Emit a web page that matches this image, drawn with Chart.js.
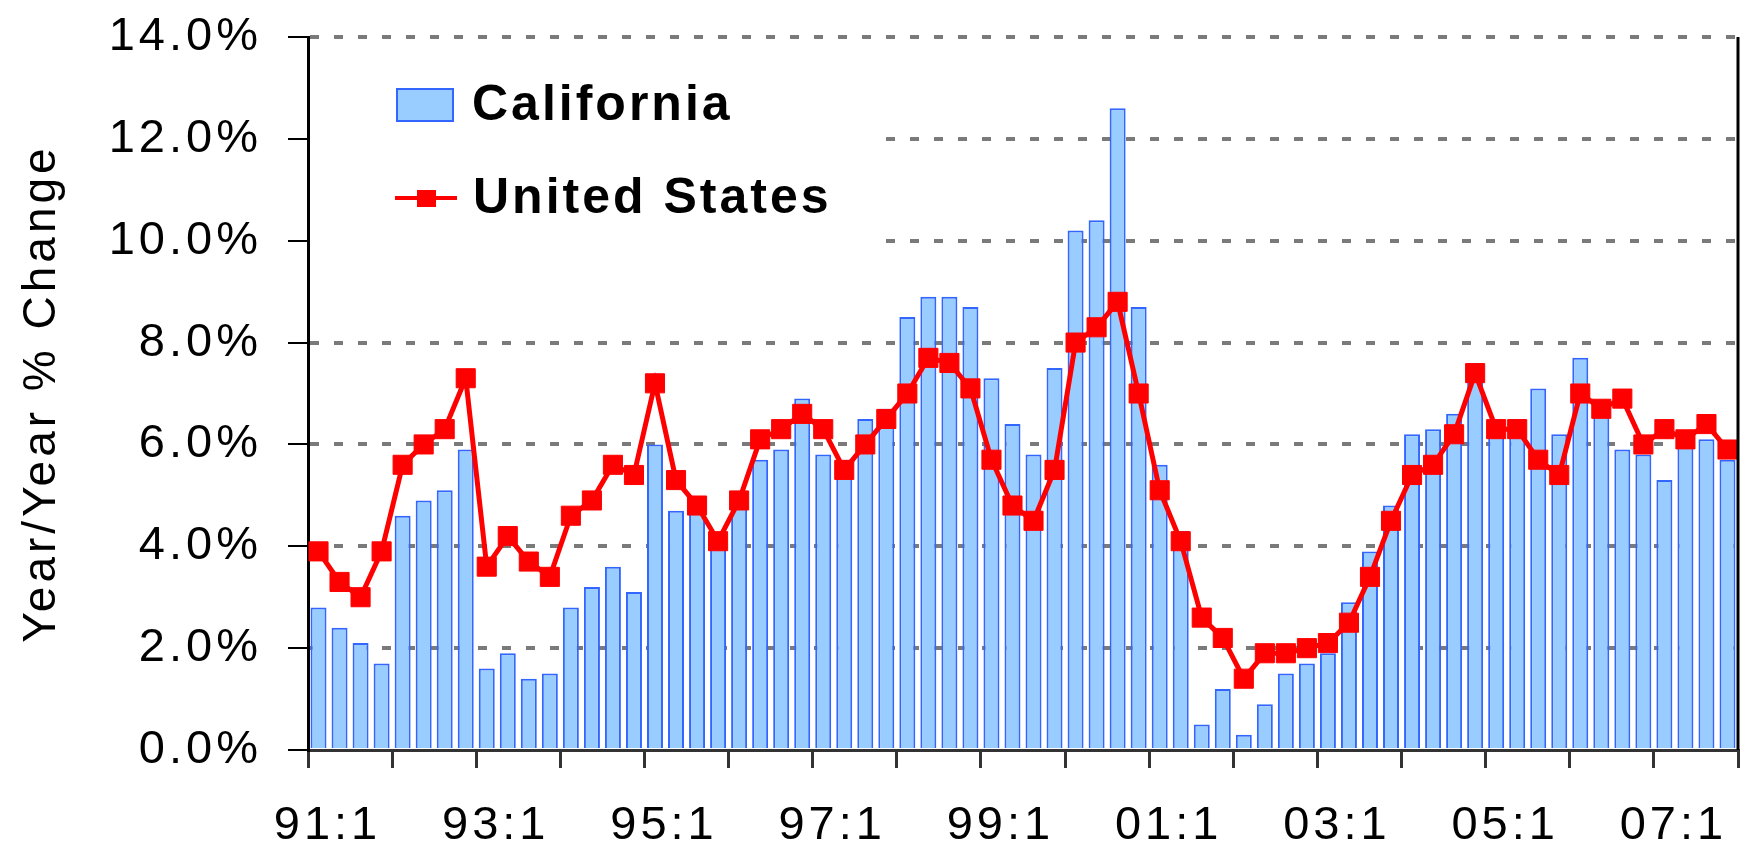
<!DOCTYPE html>
<html>
<head>
<meta charset="utf-8">
<title>California vs United States</title>
<script src="https://cdn.jsdelivr.net/npm/chart.js@4.4.1/dist/chart.umd.min.js"></script>
<style>
    body { margin: 0; background: #fff; }
    #wrap { width: 1749px; height: 858px; position: relative; }
</style>
</head>
<body>
<div id="wrap"><canvas id="growthChart"></canvas></div>
<script>
const quarters = [
    '91:1','91:2','91:3','91:4','92:1','92:2','92:3','92:4',
    '93:1','93:2','93:3','93:4','94:1','94:2','94:3','94:4',
    '95:1','95:2','95:3','95:4','96:1','96:2','96:3','96:4',
    '97:1','97:2','97:3','97:4','98:1','98:2','98:3','98:4',
    '99:1','99:2','99:3','99:4','00:1','00:2','00:3','00:4',
    '01:1','01:2','01:3','01:4','02:1','02:2','02:3','02:4',
    '03:1','03:2','03:3','03:4','04:1','04:2','04:3','04:4',
    '05:1','05:2','05:3','05:4','06:1','06:2','06:3','06:4',
    '07:1','07:2','07:3','07:4'
];

const california = [
    2.8, 2.4, 2.1, 1.7,   4.6, 4.9, 5.1, 5.9,
    1.6, 1.9, 1.4, 1.5,   2.8, 3.2, 3.6, 3.1,
    6.0, 4.7, 4.7, 4.0,   4.8, 5.7, 5.9, 6.9,
    5.8, 5.7, 6.5, 6.7,   8.5, 8.9, 8.9, 8.7,
    7.3, 6.4, 5.8, 7.5,   10.2, 10.4, 12.6, 8.7,
    5.6, 4.3, 0.5, 1.2,   0.3, 0.9, 1.5, 1.7,
    1.9, 2.9, 3.9, 4.8,   6.2, 6.3, 6.6, 7.6,
    6.2, 6.5, 7.1, 6.2,   7.7, 6.7, 5.9, 5.8,
    5.3, 6.0, 6.1, 5.7
];

const unitedStates = [
    3.9, 3.3, 3.0, 3.9,   5.6, 6.0, 6.3, 7.3,
    3.6, 4.2, 3.7, 3.4,   4.6, 4.9, 5.6, 5.4,
    7.2, 5.3, 4.8, 4.1,   4.9, 6.1, 6.3, 6.6,
    6.3, 5.5, 6.0, 6.5,   7.0, 7.7, 7.6, 7.1,
    5.7, 4.8, 4.5, 5.5,   8.0, 8.3, 8.8, 7.0,
    5.1, 4.1, 2.6, 2.2,   1.4, 1.9, 1.9, 2.0,
    2.1, 2.5, 3.4, 4.5,   5.4, 5.6, 6.2, 7.4,
    6.3, 6.3, 5.7, 5.4,   7.0, 6.7, 6.9, 6.0,
    6.3, 6.1, 6.4, 5.9
];

const yTicks = [0, 2, 4, 6, 8, 10, 12, 14];

const FONT = '"Liberation Sans", Arial, sans-serif';
Chart.defaults.font.family = FONT;
Chart.defaults.color = '#000';

// the original text is set a little wide
const wideText = {
    id: 'wideText',
    beforeDraw(chart) {
        chart.ctx.letterSpacing = '4px';
    }
};

// legend sits inside the plot on a white patch that hides the grid lines
const insideLegend = {
    id: 'insideLegend',
    beforeDatasetsDraw(chart) {
        const ctx = chart.ctx;
        const area = chart.chartArea;
        const line = chart.data.datasets[0];
        const bar = chart.data.datasets[1];
        ctx.save();
        ctx.fillStyle = '#fff';
        ctx.fillRect(area.left + 2, 60, 572, 200);

        ctx.fillStyle = bar.backgroundColor;
        ctx.fillRect(397, 89, 56, 32);
        ctx.strokeStyle = bar.borderColor;
        ctx.lineWidth = 2;
        ctx.strokeRect(397, 89, 56, 32);

        ctx.strokeStyle = line.borderColor;
        ctx.lineWidth = 4;
        ctx.beginPath();
        ctx.moveTo(395, 198);
        ctx.lineTo(457, 198);
        ctx.stroke();
        ctx.fillStyle = line.pointBackgroundColor;
        ctx.fillRect(417, 190, 19, 17);

        ctx.letterSpacing = '3px';
        ctx.fillStyle = '#000';
        ctx.font = 'bold 50px ' + FONT;
        ctx.textBaseline = 'middle';
        ctx.textAlign = 'left';
        ctx.fillText(bar.label, 472, 106);
        ctx.fillText(line.label, 473, 199);
        ctx.restore();
    },
    afterDatasetsDraw(chart) {
        const ctx = chart.ctx;
        const area = chart.chartArea;
        ctx.save();
        ctx.strokeStyle = '#000';
        ctx.lineWidth = 3;
        ctx.beginPath();
        ctx.moveTo(area.right, area.top);
        ctx.lineTo(area.right, area.bottom);
        ctx.stroke();
        ctx.restore();
    }
};

new Chart(document.getElementById('growthChart'), {
    type: 'bar',
    data: {
        labels: quarters,
        datasets: [{
            type: 'line',
            label: 'United States',
            data: unitedStates,
            borderColor: '#ff0000',
            backgroundColor: '#ff0000',
            borderWidth: 5,
            pointStyle: 'rect',
            pointRadius: 13.5,
            pointBorderWidth: 1,
            pointBackgroundColor: '#ff0000',
            pointBorderColor: '#ff0000',
            tension: 0,
            order: 0
        }, {
            label: 'California',
            data: california,
            backgroundColor: '#99ccff',
            borderColor: '#3366ff',
            borderWidth: 2,
            categoryPercentage: 1,
            barPercentage: 0.76,
            order: 1
        }]
    },
    options: {
        responsive: true,
        maintainAspectRatio: false,
        animation: false,
        layout: {
            autoPadding: false,
            padding: { left: 10, right: 11, top: 37, bottom: 0 }
        },
        plugins: {
            legend: { display: false },
            tooltip: { enabled: false }
        },
        scales: {
            x: {
                offset: true,
                grid: {
                    offset: true,
                    drawOnChartArea: false,
                    tickLength: 18,
                    tickWidth: 3,
                    lineWidth: 3,
                    tickColor: c => (c.index === undefined || c.index % 4 === 0) ? '#333' : 'rgba(0,0,0,0)'
                },
                border: { color: '#333', width: 3 },
                ticks: {
                    autoSkip: false,
                    maxRotation: 0,
                    minRotation: 0,
                    padding: 30,
                    labelOffset: 9,
                    font: { size: 47 },
                    callback: function (value, index) {
                        return index % 8 === 0 ? this.getLabelForValue(value) : '';
                    }
                },
                afterFit: scale => {
                    scale.height = 108;
                    scale.paddingLeft = 0;
                    scale.paddingRight = 0;
                }
            },
            y: {
                min: yTicks[0],
                max: yTicks[yTicks.length - 1],
                afterBuildTicks: scale => { scale.ticks = yTicks.map(v => ({ value: v })); },
                grid: {
                    color: c => (c.tick && c.tick.value === 0) ? 'rgba(0,0,0,0)' : '#7a7a7a',
                    lineWidth: 4,
                    tickColor: '#000',
                    tickWidth: 2,
                    tickLength: 20
                },
                border: { color: '#000', width: 3, dash: [9, 15] },
                ticks: {
                    padding: 26,
                    font: { size: 47 },
                    callback: v => v.toFixed(1) + '%'
                },
                title: {
                    display: true,
                    text: 'Year/Year % Change',
                    font: { size: 46 },
                    padding: { top: 5, bottom: 0 }
                },
                afterFit: scale => {
                    scale.width = 298;
                    scale.paddingTop = 0;
                    scale.paddingBottom = 0;
                }
            }
        }
    },
    plugins: [wideText, insideLegend]
});
</script>
</body>
</html>
